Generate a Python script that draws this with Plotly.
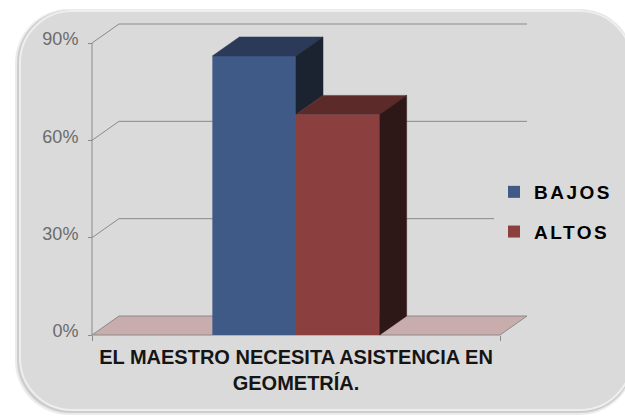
import plotly.graph_objects as go

# ---- data -------------------------------------------------------------
categories = ["EL MAESTRO NECESITA ASISTENCIA EN<br>GEOMETRÍA."]
series_names = ["BAJOS", "ALTOS"]
bajos = [86]
altos = [68]
series_values = [bajos, altos]
y_ticks = [0, 30, 60, 90]
y_tick_labels = ["0%", "30%", "60%", "90%"]

# ---- styling ----------------------------------------------------------
front_colors = ["#3f5a87", "#8b3f3f"]
top_colors = ["#2b3a58", "#5d2a2a"]
side_colors = ["#1b2230", "#2d1817"]
floor_color = "#c9adac"
line_gray = "#8a8a8a"

W, H = 625, 416
X0_PX, X1_PX = 92, 500        # front edge of the floor
Y0_PX, Y90_PX = 335, 43       # 0% and 90% on the front value axis
DEPTH_PX = (27, 19)           # oblique depth of the 3-D box

sx = X1_PX - X0_PX
sy = (Y0_PX - Y90_PX) / 90.0
x_range = [-X0_PX / sx, (W - X0_PX) / sx]
y_range = [-(H - Y0_PX) / sy, Y0_PX / sy]
dx = DEPTH_PX[0] / sx
dy = DEPTH_PX[1] / sy

cat_x = [0.5]
bar_w = 0.205

fig = go.Figure()

# front faces of the columns
for i, (name, vals) in enumerate(zip(series_names, series_values)):
    fig.add_trace(go.Bar(
        x=cat_x, y=vals, width=bar_w, offset=-bar_w + i * bar_w,
        name=name, legendgroup=name,
        marker=dict(color=front_colors[i], line=dict(width=0)),
        hoverinfo="skip",
    ))

# top and side faces
for i, vals in enumerate(series_values):
    for c, v in zip(cat_x, vals):
        xl = c - bar_w + i * bar_w
        xr = xl + bar_w
        top_x = [xl, xl + dx, xr + dx, xr, xl]
        top_y = [v, v + dy, v + dy, v, v]
        fig.add_trace(go.Scatter(
            x=top_x, y=top_y, fill="toself", fillcolor=top_colors[i],
            mode="lines", line=dict(width=0.5, color=top_colors[i]),
            showlegend=False, hoverinfo="skip"))
        # the neighbour on the right hides the lower part of this side
        base = 0
        if i + 1 < len(series_values):
            base = min(series_values[i + 1][cat_x.index(c)], v)
        side_x = [xr, xr + dx, xr + dx, xr, xr]
        side_y = [base, base + dy, v + dy, v, base]
        fig.add_trace(go.Scatter(
            x=side_x, y=side_y, fill="toself", fillcolor=side_colors[i],
            mode="lines", line=dict(width=0.5, color=side_colors[i]),
            showlegend=False, hoverinfo="skip"))


# ---- frame: rounded panel ---------------------------------------------
def px_x(p):
    return p / W


def px_y(p):
    return 1 - p / H


def rounded_rect(l, t, r, b, rad):
    k = 0.5523 * rad
    X, Y = px_x, px_y
    return (
        f"M {X(l + rad)},{Y(t)} L {X(r - rad)},{Y(t)} "
        f"C {X(r - rad + k)},{Y(t)} {X(r)},{Y(t + rad - k)} {X(r)},{Y(t + rad)} "
        f"L {X(r)},{Y(b - rad)} "
        f"C {X(r)},{Y(b - rad + k)} {X(r - rad + k)},{Y(b)} {X(r - rad)},{Y(b)} "
        f"L {X(l + rad)},{Y(b)} "
        f"C {X(l + rad - k)},{Y(b)} {X(l)},{Y(b - rad + k)} {X(l)},{Y(b - rad)} "
        f"L {X(l)},{Y(t + rad)} "
        f"C {X(l)},{Y(t + rad - k)} {X(l + rad - k)},{Y(t)} {X(l + rad)},{Y(t)} Z"
    )


shapes = [
    dict(type="path", xref="paper", yref="paper", layer="below",
         path=rounded_rect(15, 9, 634, 415, 54),
         fillcolor="#c8c8c8", opacity=0.35, line=dict(width=0)),
    dict(type="path", xref="paper", yref="paper", layer="below",
         path=rounded_rect(17, 10, 633, 413, 53),
         fillcolor="#a9a9a9", opacity=0.45, line=dict(width=0)),
    dict(type="path", xref="paper", yref="paper", layer="below",
         path=rounded_rect(20, 11, 632, 410, 52),
         fillcolor="#dadada", line=dict(color="#eeeeee", width=2)),
]

# floor
shapes.append(dict(
    type="path", xref="x", yref="y", layer="below",
    path=f"M 0,0 L {dx},{dy} L {1 + dx},{dy} L 1,0 Z",
    fillcolor=floor_color, line=dict(color=line_gray, width=1)))

# back-wall gridlines with their diagonal on the side wall
for v in y_ticks[1:]:
    shapes.append(dict(
        type="path", xref="x", yref="y", layer="below",
        path=f"M 0,{v} L {dx},{v + dy} L {1 + dx},{v + dy}",
        line=dict(color=line_gray, width=1)))

# front value axis line
shapes.append(dict(type="line", xref="x", yref="y", layer="below",
                   x0=0, y0=0, x1=0, y1=y_ticks[-1],
                   line=dict(color=line_gray, width=1)))

fig.update_layout(
    width=W, height=H,
    margin=dict(l=0, r=0, t=0, b=0),
    paper_bgcolor="white",
    plot_bgcolor="rgba(0,0,0,0)",
    barmode="overlay",
    shapes=shapes,
    showlegend=True,
    legend=dict(
        x=494 / W, y=1 - 173 / H, xanchor="left", yanchor="top",
        bgcolor="#dadada", borderwidth=0,
        traceorder="grouped", tracegroupgap=12,
        font=dict(family="Liberation Sans, Arial, sans-serif",
                  size=19, color="#000000", weight="bold"),
    ),
    xaxis=dict(
        range=x_range, domain=[0, 1], anchor="free",
        position=(H - Y0_PX) / H,
        showgrid=False, zeroline=False, showline=False,
        tickvals=cat_x, ticktext=categories, ticks="",
        ticklabelstandoff=8,
        tickfont=dict(family="Liberation Sans, Arial, sans-serif",
                      size=20, color="#151515", weight="bold"),
        minor=dict(tickvals=[0, 1], ticks="outside", ticklen=5,
                   tickcolor=line_gray, showgrid=False),
        fixedrange=True,
    ),
    yaxis=dict(
        range=y_range, domain=[0, 1], anchor="free",
        position=X0_PX / W,
        showgrid=False, zeroline=False, showline=False,
        tickvals=y_ticks, ticktext=y_tick_labels,
        ticks="outside", ticklen=4, tickcolor=line_gray,
        ticklabelstandoff=6, ticklabelshift=-4,
        tickfont=dict(family="Liberation Sans, Arial, sans-serif",
                      size=18, color="#6b6b6b"),
        fixedrange=True,
    ),
)

# widen the legend lettering and let it run past the measured legend box
spacing_js = (
    "document.querySelectorAll('.legend [clip-path]').forEach("
    "function(e){e.removeAttribute('clip-path');});"
    "document.querySelectorAll('.legendtext').forEach("
    "function(t){t.style.letterSpacing='2.5px';});"
)
fig.write_html("out.html", post_script=spacing_js)
